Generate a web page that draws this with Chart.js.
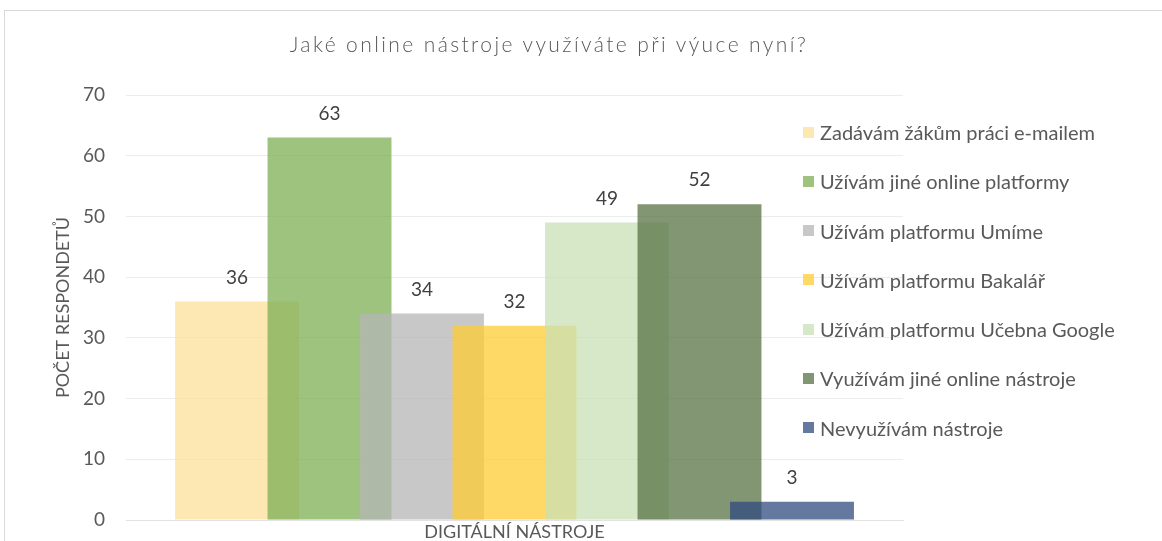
<!DOCTYPE html>
<html><head><meta charset="utf-8">
<script src="https://cdn.jsdelivr.net/npm/chart.js@4/dist/chart.umd.min.js"></script>
<style>
html,body{margin:0;padding:0;background:#fff;overflow:hidden}
#wrap{position:relative;width:1162px;height:541px;background:#fff}
#frame{position:absolute;left:4px;top:10px;width:1300px;height:700px;border:1px solid #d9d9d9;pointer-events:none}
#title{position:absolute;left:0;top:31px;width:1098px;text-align:center;font-family:Lato,sans-serif;font-weight:300;font-size:21px;letter-spacing:2.4px;line-height:26px;color:#595959;white-space:nowrap}
#legend{position:absolute;left:803px;top:120px;display:flex;flex-direction:column;gap:25.3px;font-family:Lato,sans-serif;font-size:20px;color:#595959}
.item{display:flex;align-items:center;height:24px;white-space:nowrap}
.sw{width:11px;height:11px;margin-right:6px;flex:none}
</style></head><body>
<div id="wrap">
<canvas id="c" width="1162" height="541"></canvas>
<div id="frame"></div>
<div id="title"></div>
<div id="legend"></div>
</div>
<script>
const chartTitle = 'Jaké online nástroje využíváte při výuce nyní?';
const category = 'DIGITÁLNÍ NÁSTROJE';
const yAxisTitle = 'POČET RESPONDETŮ';
const seriesNames = [
  'Zadávám žákům práci e-mailem',
  'Užívám jiné online platformy',
  'Užívám platformu Umíme',
  'Užívám platformu Bakalář',
  'Užívám platformu Učebna Google',
  'Využívám jiné online nástroje',
  'Nevyužívám nástroje'
];
const seriesValues = [36, 63, 34, 32, 49, 52, 3];
const seriesColors = [
  'rgba(252,224,155,0.75)',
  'rgba(124,175,83,0.75)',
  'rgba(182,182,182,0.75)',
  'rgba(255,204,51,0.75)',
  'rgba(200,224,182,0.75)',
  'rgba(88,115,68,0.75)',
  'rgba(48,75,128,0.75)'
];
const yTicks = [0, 10, 20, 30, 40, 50, 60, 70];

document.getElementById('title').textContent = chartTitle;
const legendEl = document.getElementById('legend');
seriesNames.forEach((n, i) => {
  const it = document.createElement('div'); it.className = 'item';
  const sw = document.createElement('span'); sw.className = 'sw'; sw.style.background = seriesColors[i];
  const tx = document.createElement('span'); tx.textContent = n;
  it.appendChild(sw); it.appendChild(tx); legendEl.appendChild(it);
});

const datasets = seriesNames.map((n, i) => ({
  label: n,
  data: [seriesValues[i]],
  backgroundColor: seriesColors[i],
  borderWidth: 0
}));

// Draw datasets first-to-last so later series overlap earlier ones (as in Excel)
const drawInOrder = {
  id: 'drawInOrder',
  beforeDatasetDraw() { return false; },
  afterDatasetsDraw(chart) {
    chart.data.datasets.forEach((ds, i) => {
      const meta = chart.getDatasetMeta(i);
      if (!meta.hidden) meta.controller.draw();
    });
  }
};

const valueLabels = {
  id: 'valueLabels',
  afterDatasetsDraw(chart) {
    const ctx = chart.ctx;
    ctx.save();
    ctx.font = '19px Lato, sans-serif';
    ctx.fillStyle = '#404040';
    ctx.textAlign = 'center';
    ctx.textBaseline = 'middle';
    chart.data.datasets.forEach((ds, di) => {
      const meta = chart.getDatasetMeta(di);
      meta.data.forEach((el, j) => {
        ctx.fillText(String(ds.data[j]), el.x, el.y - 24);
      });
    });
    ctx.restore();
  }
};

new Chart(document.getElementById('c'), {
  type: 'bar',
  data: { labels: [category], datasets },
  options: {
    responsive: false,
    animation: false,
    devicePixelRatio: 1,
    categoryPercentage: 0.8333,
    barPercentage: 1.34,
    layout: { padding: { top: 95, right: 259, left: 0, bottom: 0 } },
    plugins: { legend: { display: false }, title: { display: false }, tooltip: { enabled: false } },
    scales: {
      x: {
        grid: { display: false, drawTicks: false },
        border: { display: true, color: '#e3e3e3' },
        ticks: { font: { family: 'Lato', size: 18 }, color: '#595959', padding: 1, maxRotation: 0, autoSkip: false },
        afterFit: s => { s.height = 21; }
      },
      y: {
        min: 0, max: 70,
        afterBuildTicks: s => { s.ticks = yTicks.map(v => ({ value: v })); },
        ticks: { padding: 0, font: { family: 'Lato', size: 19 }, color: '#595959' },
        grid: { color: '#ececec', drawTicks: true, tickLength: 21, tickColor: 'rgba(0,0,0,0)' },
        border: { display: false },
        title: { display: true, text: yAxisTitle, font: { family: 'Lato', size: 18 }, color: '#595959', padding: { top: 52, bottom: 0 } },
        afterFit: s => { s.width = 126; }
      }
    }
  },
  plugins: [drawInOrder, valueLabels]
});
</script>
</body></html>
